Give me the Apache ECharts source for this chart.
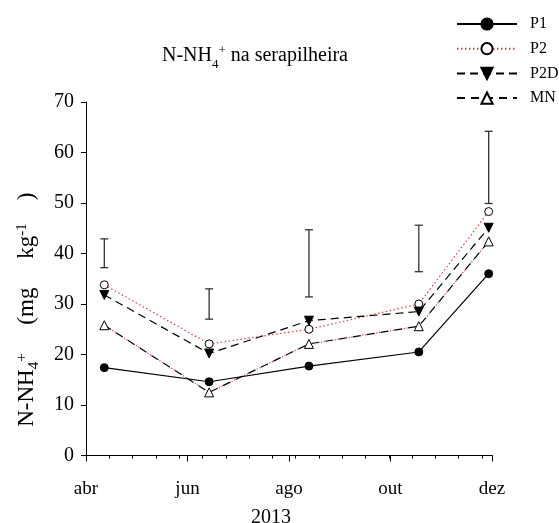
<!DOCTYPE html>
<html>
<head>
<meta charset="utf-8">
<script src="https://cdn.jsdelivr.net/npm/echarts@6/dist/echarts.min.js"></script>
<style>
html,body{margin:0;padding:0;background:#fff;}
#chart{width:559px;height:523px;}
</style>
</head>
<body>
<div id="chart"></div>
<script>
// ---- data (days counted from 1 April 2013) ----
var sampleDays = [11, 74, 134, 200, 242];
var P1  = [17.4, 14.6, 17.7, 20.5, 36.0];
var P2  = [33.8, 22.1, 25.0, 30.0, 48.3];
var P2D = [31.8, 20.2, 26.7, 28.5, 45.1];
var MN  = [25.8, 12.5, 22.1, 25.6, 42.4];
var errLow  = [37.2, 27.0, 31.4, 36.4, 49.9];
var errHigh = [42.9, 33.0, 44.7, 45.6, 64.2];
var monthDays   = [0, 61, 122, 183, 244];
var monthLabels = ['abr', 'jun', 'ago', 'out', 'dez'];
var yTicks = [0, 10, 20, 30, 40, 50, 60, 70];

var FONT = '"Liberation Serif", "Times New Roman", serif';

function pairs(vals) {
  return sampleDays.map(function (d, i) { return [d, vals[i]]; });
}
var errData = sampleDays.map(function (d, i) { return [d, errLow[i], errHigh[i]]; });

var chart = echarts.init(document.getElementById('chart'), null, {renderer: 'canvas'});

function makeRich(size, subSize) {
  return {
    a:   {fontFamily: FONT, fontSize: size, fontWeight: 'normal', color: '#000', lineHeight: 30},
    sub: {fontFamily: FONT, fontSize: subSize, fontWeight: 'normal', color: '#000', verticalAlign: 'bottom'},
    sup: {fontFamily: FONT, fontSize: subSize, fontWeight: 'normal', color: '#000', verticalAlign: 'top', padding: [3, 0, 0, 0]}
  };
}

var option = {
  animation: false,
  backgroundColor: '#fff',
  title: {
    text: '{a|N-NH}{sub|4}{sup|+}{a| na serapilheira}',
    left: 157, top: 36,
    textStyle: {fontWeight: 'normal', rich: makeRich(20, 13)}
  },
  legend: {
    orient: 'vertical',
    left: 456, top: 16, padding: 0,
    itemWidth: 60, itemHeight: 14, itemGap: 8.7,
    data: ['P1', 'P2', 'P2D', 'MN'],
    textStyle: {fontFamily: FONT, fontSize: 16, color: '#000', lineHeight: 14, padding: [0, 0, 0, 8]},
    symbolRotate: 'inherit'
  },
  grid: {left: 86, right: 67, top: 102, bottom: 67.5, containLabel: false, outerBoundsMode: 'none'},
  xAxis: [
    {
      type: 'value', position: 'bottom', min: 0, max: 244, interval: 14,
      axisLine: {show: true, lineStyle: {color: '#000', width: 1}},
      axisTick: {show: true, inside: false, length: 3, lineStyle: {color: '#000'}},
      axisLabel: {show: false},
      splitLine: {show: false}
    },
    {
      type: 'value', position: 'bottom', min: 0, max: 244, interval: 61,
      axisLine: {show: false},
      axisTick: {show: true, inside: false, length: 6, lineStyle: {color: '#000'}},
      axisLabel: {
        show: true, margin: 24, fontFamily: FONT, fontSize: 19, color: '#000',
        formatter: function (v) {
          var i = monthDays.indexOf(v);
          return i >= 0 ? monthLabels[i] : '';
        }
      },
      splitLine: {show: false},
      name: '2013', nameLocation: 'middle', nameGap: 52,
      nameTextStyle: {fontFamily: FONT, fontSize: 20, color: '#000', padding: [0, 36, 0, 0]}
    }
  ],
  yAxis: {
    type: 'value', min: yTicks[0], max: yTicks[yTicks.length - 1], interval: 10,
    axisLine: {show: true, lineStyle: {color: '#000', width: 1}},
    axisTick: {show: true, inside: false, length: 5, lineStyle: {color: '#000'}},
    axisLabel: {margin: 12, fontFamily: FONT, fontSize: 20, color: '#000'},
    splitLine: {show: false},
    name: '{a|N-NH}{sub|4}{sup|+}{a|     (mg     kg}{sup|-1}{a|    )}',
    nameLocation: 'middle', nameRotate: 90, nameGap: 44,
    nameTextStyle: {rich: makeRich(23, 15), padding: [0, 62, 0, 0]}
  },
  series: [
    {
      type: 'custom', name: 'err', xAxisIndex: 0, silent: true, z: 1,
      data: errData,
      renderItem: function (params, api) {
        var x = api.value(0);
        var lo = api.coord([x, api.value(1)]);
        var hi = api.coord([x, api.value(2)]);
        var w = 4;
        var st = {stroke: '#333', lineWidth: 1.3};
        return {
          type: 'group',
          children: [
            {type: 'line', shape: {x1: lo[0], y1: lo[1], x2: hi[0], y2: hi[1]}, style: st},
            {type: 'line', shape: {x1: lo[0] - w, y1: lo[1], x2: lo[0] + w, y2: lo[1]}, style: st},
            {type: 'line', shape: {x1: hi[0] - w, y1: hi[1], x2: hi[0] + w, y2: hi[1]}, style: st}
          ]
        };
      }
    },
    {
      type: 'line', name: 'P1', xAxisIndex: 0, data: pairs(P1), z: 5,
      symbol: 'circle', symbolSize: 8, showSymbol: true,
      lineStyle: {color: '#000', width: 1.2, type: 'solid'},
      itemStyle: {color: '#000', borderColor: '#000', borderWidth: 1}
    },
    {
      type: 'line', name: 'P2', xAxisIndex: 0, data: pairs(P2), z: 5,
      symbol: 'circle', symbolSize: 8, showSymbol: true,
      lineStyle: {color: '#e03c3c', width: 1.2, type: [1.5, 2.5]},
      itemStyle: {color: '#fff', borderColor: '#000', borderWidth: 1}
    },
    {
      type: 'line', name: 'P2D', xAxisIndex: 0, data: pairs(P2D), z: 5,
      symbol: 'triangle', symbolRotate: 180, symbolSize: 9, showSymbol: true,
      lineStyle: {color: '#000', width: 1.2, type: [8, 5]},
      itemStyle: {color: '#000', borderColor: '#000', borderWidth: 1}
    },
    {
      type: 'line', name: 'MN', xAxisIndex: 0, data: pairs(MN), z: 5,
      symbol: 'triangle', symbolSize: 9, showSymbol: true,
      lineStyle: {color: '#000', width: 1.2, type: [8, 6]},
      itemStyle: {color: '#fff', borderColor: '#000', borderWidth: 1}
    },
    {
      type: 'line', name: 'MN-dots', xAxisIndex: 0, data: pairs(MN), z: 4,
      symbol: 'none', silent: true,
      lineStyle: {color: '#e03c3c', width: 1.2, type: [1.2, 1.6, 1.2, 10], dashOffset: 4.5}
    }
  ]
};
chart.setOption(option);
</script>
</body>
</html>
